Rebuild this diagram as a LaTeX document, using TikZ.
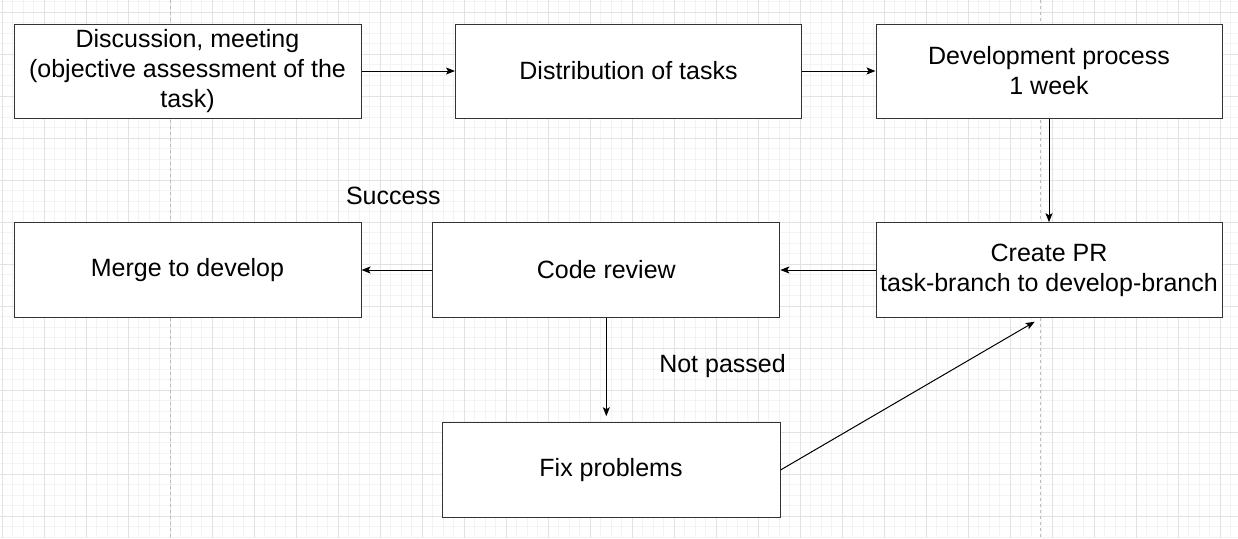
\documentclass[tikz,border=0pt]{standalone}
\usepackage{fontspec}
\setmainfont{Liberation Sans}
\usetikzlibrary{arrows.meta}
\definecolor{gminor}{HTML}{F3F3F3}
\definecolor{gmajor}{HTML}{E2E2E2}
\definecolor{gpage}{HTML}{BDBDBD}
\definecolor{boxline}{HTML}{333333}
\begin{document}
\begin{tikzpicture}[x=1pt,y=-1pt,
  box/.style={draw=boxline,line width=1pt,fill=white,inner sep=0pt,align=center,
    font=\fontsize{25}{30}\selectfont},
  lbl/.style={inner sep=0pt,font=\fontsize{25}{30}\selectfont},
  conn/.style={draw=black,line width=1pt,-{Stealth[length=9pt,width=7pt,inset=2pt]}},
  minorline/.style={draw=gminor,line width=0.8pt},
  majorline/.style={draw=gmajor,line width=1pt},
  pageline/.style={draw=gpage,line width=0.8pt,dash pattern=on 3pt off 3pt}]
\useasboundingbox (0,0) rectangle (1238,538);
\fill[white] (0,0) rectangle (1238,538);
% grid
\foreach \i in {0,...,117} {\pgfmathsetmacro\gx{2.3+10.5*\i}\draw[minorline] (\gx,0) -- (\gx,538);}
\foreach \i in {0,...,51} {\pgfmathsetmacro\gy{1.8+10.5*\i}\draw[minorline] (0,\gy) -- (1238,\gy);}
\foreach \i in {0,...,29} {\pgfmathsetmacro\gx{2.3+42*\i}\draw[majorline] (\gx,0) -- (\gx,538);}
\foreach \i in {0,...,12} {\pgfmathsetmacro\gy{12.3+42*\i}\draw[majorline] (0,\gy) -- (1238,\gy);}
\draw[pageline] (170.3,0) -- (170.3,538);
\draw[pageline] (1040.5,0) -- (1040.5,538);
% boxes
\node[box,minimum width=347pt,minimum height=94pt] (b1) at (187.5,71) {Discussion, meeting\\(objective assessment of the\\task)};
\node[box,minimum width=346pt,minimum height=94pt] (b2) at (628.5,71) {Distribution of tasks};
\node[box,minimum width=346pt,minimum height=94pt] (b3) at (1049,71) {Development process\\1 week};
\node[box,minimum width=347pt,minimum height=94.6pt] (merge) at (187.5,270) {Merge to develop};
\node[box,minimum width=347pt,minimum height=94.6pt] (cr) at (606.3,270) {Code review};
\node[box,minimum width=346pt,minimum height=94.6pt] (pr) at (1049,270) {Create PR\\task-branch to develop-branch};
\node[box,minimum width=338pt,minimum height=94.6pt] (fix) at (611,470) {Fix problems};
% labels
\node[lbl,anchor=base] (success) at (393.3,204.3) {Success};
\node[lbl,anchor=base] (notpassed) at (722.5,372.7) {Not passed};
% connectors
\coordinate (prbot) at (1034.7,321.7);
\draw[conn] (b1.east) -- (b2.west);
\draw[conn] (b2.east) -- (b3.west);
\draw[conn] (b3.south) -- (pr.north);
\draw[conn] (pr.west) -- (cr.east);
\draw[conn] (cr.west) -- (merge.east);
\draw[conn,shorten >=6pt] (cr.south) -- (cr.south |- fix.north);
\draw[conn] (fix.east) -- (prbot);
\end{tikzpicture}
\end{document}
